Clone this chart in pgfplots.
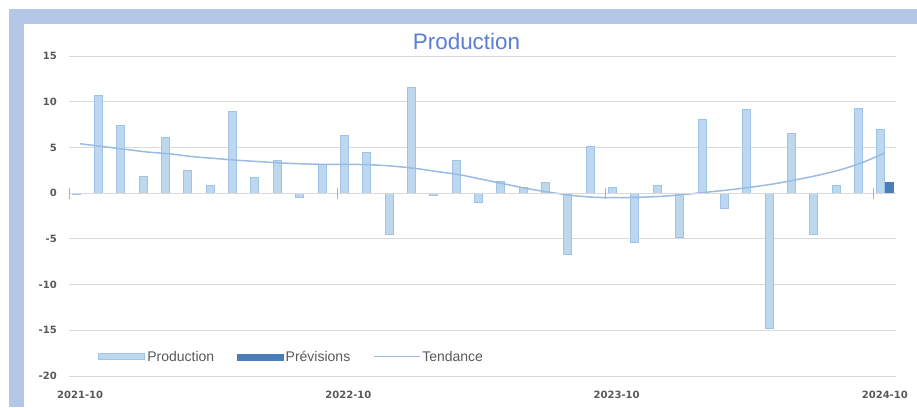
\documentclass[border=0pt]{standalone}
\usepackage{fontspec}
\setmainfont{Liberation Sans}
\newfontfamily\tickfont{DejaVu Sans}
\usepackage{pgfplots}
\pgfplotsset{compat=1.18}
\definecolor{frameblue}{HTML}{B4C7E7}
\definecolor{barfill}{HTML}{BDD7EE}
\definecolor{baredge}{HTML}{9DC3E6}
\definecolor{prevfill}{HTML}{4A7EBB}
\definecolor{trendc}{HTML}{9BBBE3}
\definecolor{titleblue}{HTML}{5A7DD6}
\definecolor{gridc}{HTML}{D9D9D9}
\definecolor{tickc}{HTML}{595959}
\begin{document}
\begin{tikzpicture}[x=1pt,y=1pt]
\path[use as bounding box] (0,0) rectangle (917,407);
\fill[white] (0,0) rectangle (917,407);
\fill[frameblue] (9,0) rectangle (917,398);
\fill[white] (24,0) rectangle (917,383);
\node[anchor=base, font=\fontsize{22.4}{24}\selectfont, text=titleblue, inner sep=0pt] at (466.5,357) {Production};
\begin{axis}[
  at={(69pt,31pt)}, anchor=south west, scale only axis,
  width=827pt, height=320pt,
  xmin=-0.5, xmax=36.5, ymin=-20, ymax=15,
  ytick={-20,-15,-10,-5,0,5,10,15},
  xtick={0,12,24,36},
  xticklabels={2021-10,2022-10,2023-10,2024-10},
  /pgf/number format/assume math mode=true,
  major tick length=0pt,
  axis line style={draw=none},
  ymajorgrids, grid style={gridc, line width=1pt},
  yticklabel style={font=\tickfont\bfseries\fontsize{10}{12}\selectfont, text=tickc, anchor=east, inner sep=0pt, xshift=-12pt},
  xticklabel style={font=\tickfont\bfseries\fontsize{10}{12}\selectfont, text=tickc, anchor=north, inner sep=0pt, yshift=-15pt},
  legend columns=-1,
  legend style={draw=none, fill=none, inner sep=0pt, at={(axis cs:0.8,-17.9)}, anchor=west,
    font=\fontsize{14}{16}\selectfont, text=tickc,
    /tikz/every even column/.append style={column sep=21pt}},
]
\addplot[ybar, bar width=8pt, bar shift=-4pt, fill=barfill, draw=baredge, line width=1pt,
  legend image code/.code={\draw[fill=barfill, draw=baredge, line width=1pt] (0pt,-3pt) rectangle (46pt,3pt);}]
coordinates {
(0,-0.2) (1,10.7) (2,7.4) (3,1.8) (4,6.1) (5,2.5) (6,0.8) (7,8.9) (8,1.7) (9,3.6)
(10,-0.5) (11,3.1) (12,6.3) (13,4.5) (14,-4.5) (15,11.6) (16,-0.3) (17,3.6) (18,-1.0) (19,1.3)
(20,0.6) (21,1.2) (22,-6.7) (23,5.1) (24,0.6) (25,-5.4) (26,0.8) (27,-4.9) (28,8.1) (29,-1.7)
(30,9.1) (31,-14.8) (32,6.5) (33,-4.5) (34,0.8) (35,9.3) (36,7.0)
};
\addlegendentry{Production}
\addplot[ybar, bar width=8pt, bar shift=4pt, fill=prevfill, draw=prevfill, line width=0.5pt,
  legend image code/.code={\fill[prevfill] (0pt,-3pt) rectangle (46pt,3pt);}]
coordinates {(36,1.2)};
\addlegendentry{Prévisions}
\addplot[trendc, line width=1.5pt, smooth, no markers,
  legend image code/.code={\draw[trendc, line width=1pt] (0pt,0pt) -- (46pt,0pt);}]
coordinates {
(0,5.4) (1,5.1) (2,4.8) (3,4.5) (4,4.3) (5,4.0) (6,3.8) (7,3.6) (8,3.45) (9,3.3)
(10,3.2) (11,3.15) (12,3.15) (13,3.1) (14,2.95) (15,2.7) (16,2.35) (17,2.0) (18,1.5) (19,1.0)
(20,0.5) (21,0.1) (22,-0.25) (23,-0.45) (24,-0.5) (25,-0.45) (26,-0.35) (27,-0.15) (28,0.1) (29,0.35)
(30,0.65) (31,1.0) (32,1.45) (33,1.95) (34,2.55) (35,3.35) (36,4.4)
};
\addlegendentry{Tendance}
\draw[gridc, line width=1.2pt] (axis cs:-0.5,0) -- (axis cs:36.5,0);
\draw[gridc!80!black, line width=0.8pt] (axis cs:-0.5,0.6) -- (axis cs:-0.5,-0.6);
\draw[gridc!80!black, line width=0.8pt] (axis cs:11.5,0.6) -- (axis cs:11.5,-0.6);
\draw[gridc!80!black, line width=0.8pt] (axis cs:23.5,0.6) -- (axis cs:23.5,-0.6);
\draw[gridc!80!black, line width=0.8pt] (axis cs:35.5,0.6) -- (axis cs:35.5,-0.6);
\end{axis}
\end{tikzpicture}
\end{document}
